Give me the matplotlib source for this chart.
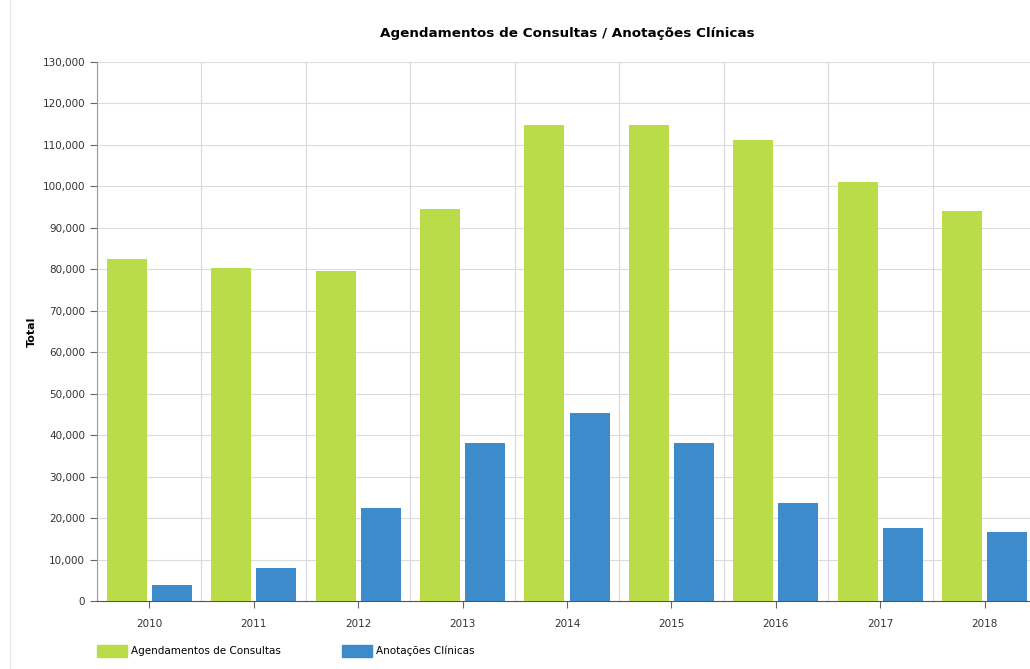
import matplotlib
matplotlib.use("Agg")
import matplotlib.pyplot as plt
from matplotlib.patches import Patch
from matplotlib.lines import Line2D
from matplotlib.ticker import FuncFormatter, MultipleLocator
import numpy as np

anos = ["2010", "2011", "2012", "2013", "2014", "2015", "2016", "2017", "2018"]
agendamentos = [82500, 80300, 79600, 94500, 114700, 114700, 111200, 101100, 94100]
anotacoes = [3900, 8000, 22400, 38100, 45300, 38100, 23600, 17600, 16600]

verde = "#b9dc48"
azul = "#3e8bcb"

W, H = 1030, 669
fig = plt.figure(figsize=(W / 100, H / 100), dpi=100)
# eixo vai um pouco além da borda direita (imagem original cortada)
ax = fig.add_axes([97 / W, 1 - 601 / H, (1037 - 97) / W, (601 - 62) / H])

x = np.arange(len(anos))
larg = 0.383
desl = 0.2155
ax.bar(x - desl, agendamentos, larg, color=verde, zorder=3)
ax.bar(x + desl, anotacoes, larg, color=azul, zorder=3)

ax.set_xlim(-0.5, len(anos) - 0.5)
ax.set_ylim(0, 130000)
ax.yaxis.set_major_locator(MultipleLocator(10000))
ax.yaxis.set_major_formatter(FuncFormatter(lambda v, p: f"{int(v):,}"))
ax.set_xticks(x)
ax.set_xticklabels(anos)

# grade vertical nas fronteiras das categorias
ax.set_xticks(np.arange(len(anos) + 1) - 0.5, minor=True)
ax.grid(True, which="minor", axis="x", color="#d8d8e0", linewidth=0.8, zorder=0)
ax.grid(True, which="major", axis="y", color="#dcdcdc", linewidth=0.8, zorder=0)
ax.tick_params(axis="x", which="minor", length=0)

for s in ["top", "right"]:
    ax.spines[s].set_visible(False)
ax.spines["left"].set_color("#999999")
ax.spines["bottom"].set_color("#555555")
ax.tick_params(axis="both", which="major", labelsize=7.5, labelcolor="#333333",
               color="#666666", length=5)
ax.tick_params(axis="x", pad=8)

ax.set_ylabel("Total", fontsize=8, fontweight="bold", labelpad=4)
fig.text(567 / W, 1 - 34 / H, "Agendamentos de Consultas / Anotações Clínicas",
         ha="center", va="center", fontsize=9.7, fontweight="bold")

handles = [Patch(color=verde, label="Agendamentos de Consultas"),
           Patch(color=azul, label="Anotações Clínicas")]
fig.legend(handles=handles, loc="center left", bbox_to_anchor=(97 / W, 1 - 651 / H),
           ncol=2, frameon=False, fontsize=7.5, handlelength=2.9, handleheight=1.5,
           handletextpad=0.4, columnspacing=5.8, borderpad=0, borderaxespad=0)

# borda suave à esquerda
fig.add_artist(Line2D([10 / W, 10 / W], [0, 1], color="#e6e6e6", linewidth=1))

fig.savefig("out.png", dpi=100)
